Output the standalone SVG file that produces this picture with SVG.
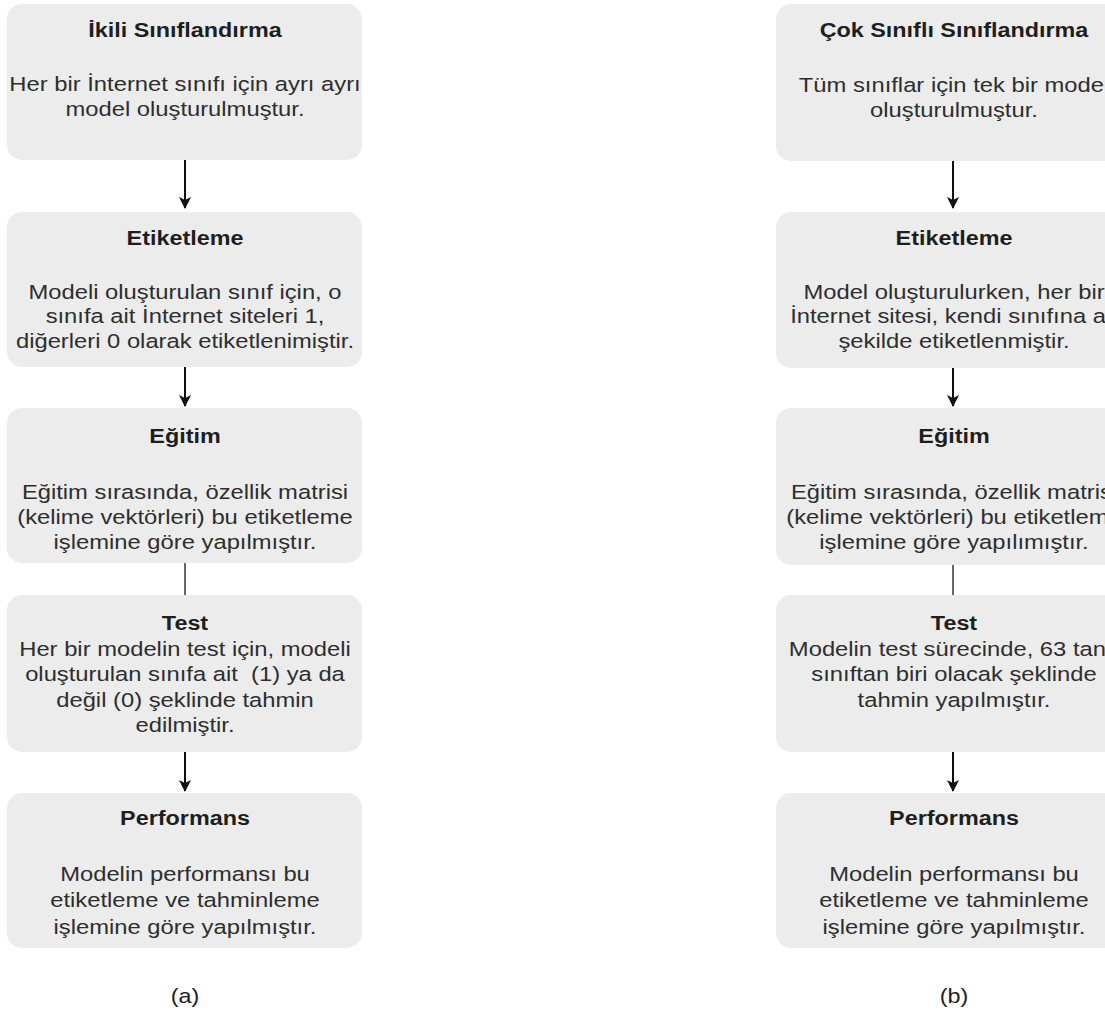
<svg xmlns="http://www.w3.org/2000/svg" width="1105" height="1015" viewBox="0 0 1105 1015">
<style>
.box{fill:#ececec;stroke:none}
text{font-family:"Liberation Sans",Arial,sans-serif;font-size:20.5px;text-anchor:middle}
.title{font-weight:bold;fill:#1e1e1e}
.body{fill:#2e2e2e}
.cap{fill:#1e1e1e}
.edge{stroke:#111;stroke-width:2;fill:none}
.plain{stroke:#333;stroke-width:1.5;fill:none}
</style>
<defs>
<marker id="ah" viewBox="0 0 12 12" refX="11" refY="6" markerWidth="12" markerHeight="12" markerUnits="userSpaceOnUse" orient="auto">
<path d="M0,0 L12,6 L0,12 L3,6 Z" fill="#111"/>
</marker>
</defs>
<rect width="1105" height="1015" fill="#ffffff"/>

<g id="connectors">
<line class="edge" x1="185" y1="160" x2="185" y2="208" marker-end="url(#ah)"/>
<line class="edge" x1="185" y1="367" x2="185" y2="406" marker-end="url(#ah)"/>
<line class="plain" x1="185" y1="563" x2="185" y2="595"/>
<line class="edge" x1="185" y1="752" x2="185" y2="791" marker-end="url(#ah)"/>
<line class="edge" x1="953" y1="161" x2="953" y2="208" marker-end="url(#ah)"/>
<line class="edge" x1="953" y1="368" x2="953" y2="406" marker-end="url(#ah)"/>
<line class="plain" x1="953" y1="565" x2="953" y2="595"/>
<line class="edge" x1="953" y1="752" x2="953" y2="791" marker-end="url(#ah)"/>
</g>

<g id="a-ikili">
<rect class="box" x="7" y="4" width="355" height="156" rx="15"/>
<g transform="translate(185 0) scale(1.14 1)">
<text class="title" x="0" y="37">İkili Sınıflandırma</text>
</g>
<g transform="translate(185 0) scale(1.16 1)">
<text class="body" x="0" y="91">Her bir İnternet sınıfı için ayrı ayrı</text>
<text class="body" x="0" y="116">model oluşturulmuştur.</text>
</g>
</g>

<g id="a-etiketleme">
<rect class="box" x="7" y="212" width="355" height="155" rx="15"/>
<g transform="translate(185 0) scale(1.14 1)">
<text class="title" x="0" y="245">Etiketleme</text>
</g>
<g transform="translate(185 0) scale(1.16 1)">
<text class="body" x="0" y="299">Modeli oluşturulan sınıf için, o</text>
<text class="body" x="0" y="323">sınıfa ait İnternet siteleri 1,</text>
<text class="body" x="0" y="348">diğerleri 0 olarak etiketlenimiştir.</text>
</g>
</g>

<g id="a-egitim">
<rect class="box" x="7" y="408" width="355" height="155" rx="15"/>
<g transform="translate(185 0) scale(1.14 1)">
<text class="title" x="0" y="443">Eğitim</text>
</g>
<g transform="translate(185 0) scale(1.16 1)">
<text class="body" x="0" y="499">Eğitim sırasında, özellik matrisi</text>
<text class="body" x="0" y="524">(kelime vektörleri) bu etiketleme</text>
<text class="body" x="0" y="549">işlemine göre yapılmıştır.</text>
</g>
</g>

<g id="a-test">
<rect class="box" x="7" y="595" width="355" height="157" rx="15"/>
<g transform="translate(185 0) scale(1.14 1)">
<text class="title" x="0" y="630">Test</text>
</g>
<g transform="translate(185 0) scale(1.16 1)">
<text class="body" x="0" y="656">Her bir modelin test için, modeli</text>
<text class="body" x="0" y="681" xml:space="preserve">oluşturulan sınıfa ait  (1) ya da</text>
<text class="body" x="0" y="707">değil (0) şeklinde tahmin</text>
<text class="body" x="0" y="732">edilmiştir.</text>
</g>
</g>

<g id="a-performans">
<rect class="box" x="7" y="793" width="355" height="155" rx="15"/>
<g transform="translate(185 0) scale(1.14 1)">
<text class="title" x="0" y="825">Performans</text>
</g>
<g transform="translate(185 0) scale(1.16 1)">
<text class="body" x="0" y="881">Modelin performansı bu</text>
<text class="body" x="0" y="907">etiketleme ve tahminleme</text>
<text class="body" x="0" y="934">işlemine göre yapılmıştır.</text>
</g>
</g>

<g id="a-caption">
<g transform="translate(185 0) scale(1.14 1)">
<text class="cap" x="0" y="1003">(a)</text>
</g>
</g>

<g id="b-cok">
<rect class="box" x="776" y="4" width="355" height="157" rx="15"/>
<g transform="translate(954 0) scale(1.14 1)">
<text class="title" x="0" y="37">Çok Sınıflı Sınıflandırma</text>
</g>
<g transform="translate(954 0) scale(1.16 1)">
<text class="body" x="0" y="92">Tüm sınıflar için tek bir model</text>
<text class="body" x="0" y="117">oluşturulmuştur.</text>
</g>
</g>

<g id="b-etiketleme">
<rect class="box" x="776" y="212" width="355" height="156" rx="15"/>
<g transform="translate(954 0) scale(1.14 1)">
<text class="title" x="0" y="245">Etiketleme</text>
</g>
<g transform="translate(954 0) scale(1.16 1)">
<text class="body" x="0" y="299">Model oluşturulurken, her bir</text>
<text class="body" x="0" y="323">İnternet sitesi, kendi sınıfına ait</text>
<text class="body" x="0" y="348">şekilde etiketlenmiştir.</text>
</g>
</g>

<g id="b-egitim">
<rect class="box" x="776" y="408" width="355" height="157" rx="15"/>
<g transform="translate(954 0) scale(1.14 1)">
<text class="title" x="0" y="443">Eğitim</text>
</g>
<g transform="translate(954 0) scale(1.16 1)">
<text class="body" x="0" y="499">Eğitim sırasında, özellik matrisi</text>
<text class="body" x="0" y="524">(kelime vektörleri) bu etiketleme</text>
<text class="body" x="0" y="549">işlemine göre yapılımıştır.</text>
</g>
</g>

<g id="b-test">
<rect class="box" x="776" y="595" width="355" height="157" rx="15"/>
<g transform="translate(954 0) scale(1.14 1)">
<text class="title" x="0" y="630">Test</text>
</g>
<g transform="translate(954 0) scale(1.16 1)">
<text class="body" x="0" y="656">Modelin test sürecinde, 63 tane</text>
<text class="body" x="0" y="681">sınıftan biri olacak şeklinde</text>
<text class="body" x="0" y="707">tahmin yapılmıştır.</text>
</g>
</g>

<g id="b-performans">
<rect class="box" x="776" y="793" width="355" height="155" rx="15"/>
<g transform="translate(954 0) scale(1.14 1)">
<text class="title" x="0" y="825">Performans</text>
</g>
<g transform="translate(954 0) scale(1.16 1)">
<text class="body" x="0" y="881">Modelin performansı bu</text>
<text class="body" x="0" y="907">etiketleme ve tahminleme</text>
<text class="body" x="0" y="934">işlemine göre yapılmıştır.</text>
</g>
</g>

<g id="b-caption">
<g transform="translate(954 0) scale(1.14 1)">
<text class="cap" x="0" y="1003">(b)</text>
</g>
</g>
</svg>
